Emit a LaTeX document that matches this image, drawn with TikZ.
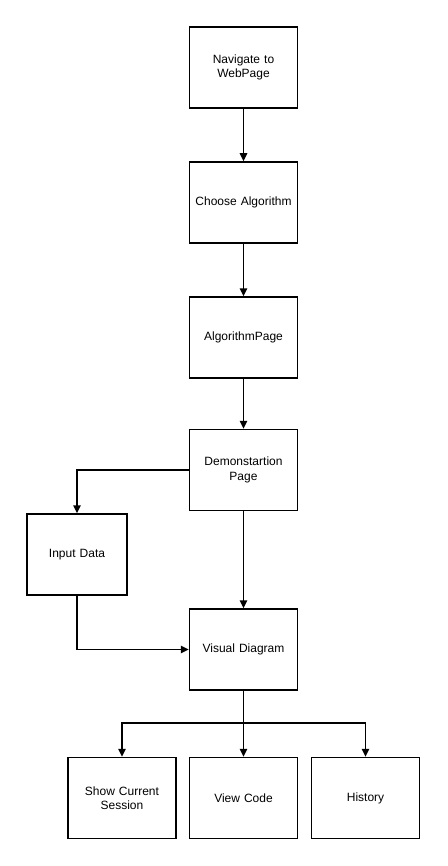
\documentclass[tikz,border=0pt]{standalone}
\usepackage{fontspec}
\setmainfont{Liberation Sans}
\usetikzlibrary{arrows.meta}
\tikzset{
  stepbox/.style={draw, line width=1.5pt, minimum width=108pt, minimum height=81pt,
    inner sep=0pt, text width=100pt, align=center, font=\fontsize{12}{14.5}\selectfont},
  flow/.style={line width=1.5pt, -{Triangle[length=8pt,width=7.5pt]}}
}
\begin{document}
\begin{tikzpicture}[x=1pt,y=-1pt]
\useasboundingbox[fill=white] (0,0) rectangle (447,866);

\node[stepbox] (nav) at (243.5,67.5) {Navigate to\\WebPage};
\node[stepbox] (choose) at (243.5,202.5) {Choose Algorithm};
\node[stepbox] (algo) at (243.5,337.5) {AlgorithmPage};
\node[stepbox] (demo) at (243.5,470) {Demonstartion\\Page};
\node[stepbox, minimum width=100pt, text width=94pt] (input) at (77,554.5) {Input Data};
\node[stepbox] (visual) at (243.5,649.5) {Visual Diagram};
\node[stepbox] (session) at (122,798) {Show Current\\Session};
\node[stepbox] (code) at (243.5,798) {View Code};
\node[stepbox] (history) at (365.5,798) {History};
\coordinate (split) at (243.5,723);

\draw [flow] (nav) -- (choose);
\draw [flow] (choose) -- (algo);
\draw [flow] (algo) -- (demo);
\draw [flow] (demo.west) -| (input.north);
\draw [flow] (demo) -- (visual);
\draw [flow] (input.south) |- (visual.west);
\draw [line width=1.5pt] (visual.south) -- (split);
\draw [flow] (split) -| (session.north);
\draw [flow] (split) -- (code.north);
\draw [flow] (split) -| (history.north);
\end{tikzpicture}
\end{document}
